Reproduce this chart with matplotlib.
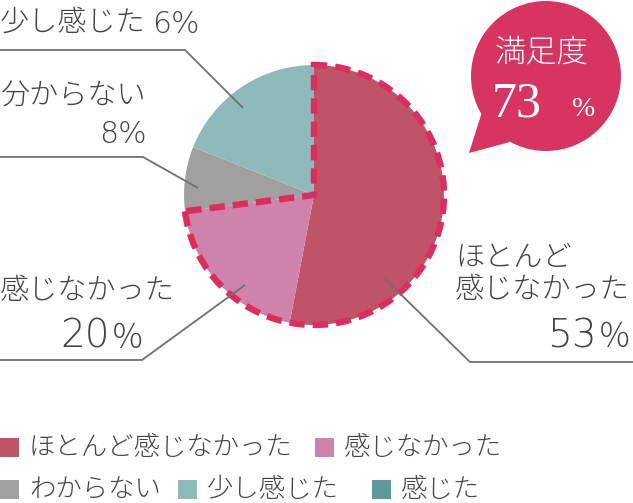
import matplotlib
matplotlib.use("Agg")
import matplotlib.pyplot as plt
from matplotlib.patches import Wedge, Circle, Polygon, Rectangle

plt.rcParams['font.family'] = ['Noto Sans CJK JP', 'DejaVu Sans']
plt.rcParams['font.weight'] = 'light'

# slices as drawn (clockwise from 12 o'clock)
categories = ['ほとんど感じなかった', '感じなかった', 'わからない', '少し感じた']
shares = [53, 20, 8, 19]
colors = ['#bf5468', '#cf82aa', '#a0a0a0', '#8fbaba']
label_pct = ['53', '20', '8', '6']
satisfied = 73  # ほとんど感じなかった + 感じなかった

legend_names = ['ほとんど感じなかった', '感じなかった', 'わからない', '少し感じた', '感じた']
legend_colors = ['#bf5468', '#cf82aa', '#a0a0a0', '#8fbaba', '#5a9a98']

W, H = 633, 503
def Y(y):
    return H - y

fig = plt.figure(figsize=(W / 100, H / 100), dpi=100)
ax = fig.add_axes([0, 0, 1, 1])

cx, cy, r = 314, Y(195), 130
ax.pie(shares, colors=colors, startangle=90, counterclock=False,
       center=(cx, cy), radius=r, wedgeprops=dict(linewidth=0))

# dashed outline around the "satisfied" part
t1 = 90 - 360 * (shares[0] + shares[1]) / sum(shares)
ax.add_patch(Wedge((cx, cy), r, t1, 90, fill=False, edgecolor='#dc2d5e',
                   linewidth=4.6, linestyle=(0, (2.4, 1.25)), capstyle='butt',
                   joinstyle='miter', zorder=5))

# leader lines
lc = '#707070'
lines = [
    [(0, 50), (185, 50), (243, 108)],
    [(0, 157), (143, 157), (198, 188)],
    [(0, 360), (142, 360), (245, 285)],
    [(633, 362), (470, 362), (383, 277)],
]
for pts in lines:
    ax.plot([p[0] for p in pts], [Y(p[1]) for p in pts], color=lc, lw=1.3,
            solid_capstyle='butt', zorder=6)

tc = '#444444'
num_font = ['DejaVu Sans']


def big_pct(x_end, y, digits):
    # large digits, then a smaller full-width percent sign
    ax.text(x_end, Y(y), digits, fontsize=28, color=tc, ha='right',
            va='center', family=num_font)
    ax.text(x_end + 18, Y(y + 2), '％', fontsize=24, color=tc, ha='center',
            va='center')


ax.text(0, Y(22), categories[3], fontsize=21, color=tc, ha='left', va='center')
ax.text(152, Y(24), label_pct[3] + '%', fontsize=21.5, color=tc, ha='left',
        va='center', family=num_font)
ax.text(0, Y(95), '分からない', fontsize=21, color=tc, ha='left', va='center')
ax.text(147, Y(134), label_pct[2] + '%', fontsize=21.5, color=tc, ha='right',
        va='center', family=num_font)
ax.text(0, Y(291), categories[1], fontsize=21, color=tc, ha='left', va='center')
big_pct(110, 337, label_pct[1])
ax.text(455, Y(258), 'ほとんど', fontsize=21, color=tc, ha='left', va='center')
ax.text(455, Y(290), '感じなかった', fontsize=21, color=tc, ha='left', va='center')
big_pct(597, 336, label_pct[0])

# speech bubble
bc = '#d83461'
ax.add_patch(Circle((546, Y(76)), 75, color=bc, lw=0, zorder=7))
ax.add_patch(Polygon([(469, Y(153)), (482, Y(112)), (510, Y(142))],
                     closed=True, color=bc, lw=0, zorder=7))
ax.text(542, Y(52), '満足度', fontsize=22.5, color='white', ha='center',
        va='center', zorder=8)
ax.text(492, Y(104), str(satisfied), fontsize=36, color='white', ha='left',
        va='center', family='Liberation Serif', zorder=8)
ax.text(584, Y(109), '%', fontsize=20, color='white', ha='center',
        va='center', family='Liberation Serif', zorder=8)

# legend
rows = [(447, [(0, 0), (315, 1)]), (489, [(0, 2), (178, 3), (372, 4)])]
for ry, items in rows:
    for lx, i in items:
        ax.add_patch(Rectangle((lx, Y(ry) - 9.5), 19, 19,
                               color=legend_colors[i], lw=0))
        ax.text(lx + 29, Y(ry), legend_names[i], fontsize=19, color=tc,
                ha='left', va='center')

ax.set_xlim(0, W)
ax.set_ylim(0, H)
ax.set_aspect('equal')
ax.axis('off')
fig.savefig('out.png', dpi=100, facecolor='white')
